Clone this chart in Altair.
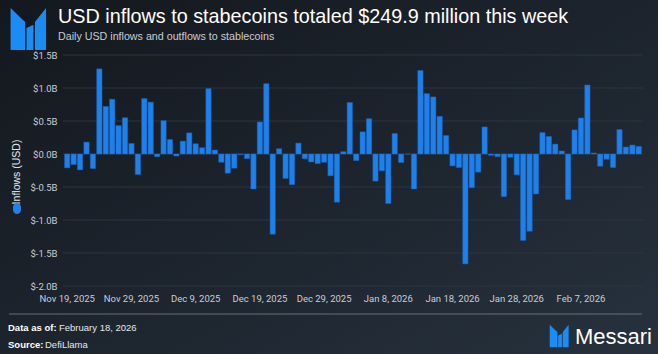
import altair as alt
import pandas as pd

# ---- data (billions of USD, daily, starting Nov 19, 2025) ----
start_date = "2025-11-19"
inflows_b = [
    -0.21, -0.16, -0.24, 0.18, -0.22, 1.29, 0.72, 0.83, 0.43, 0.55,
    0.16, -0.31, 0.84, 0.785, -0.04, 0.505, 0.22, -0.03, 0.195, 0.32,
    0.155, 0.095, 0.99, 0.06, -0.125, -0.29, -0.215, -0.01, -0.07, -0.53,
    0.485, 1.065, -1.215, 0.08, -0.37, -0.465, 0.165, -0.07, -0.12, -0.145,
    -0.125, -0.33, -0.73, 0.035, 0.78, -0.10, 0.335, 0.535, -0.41, -0.255,
    -0.75, 0.31, -0.13, 0.0, -0.53, 1.265, 0.915, 0.865, 0.57, 0.28,
    -0.18, -0.205, -1.665, -0.51, -0.275, 0.41, -0.02, -0.04, -0.645, -0.05,
    -0.315, -1.31, -1.17, -0.605, 0.325, 0.265, 0.15, 0.045, -0.69, 0.365,
    0.545, 1.045, 0.015, -0.185, -0.08, -0.205, 0.37, 0.105, 0.135, 0.115,
]
x_tick_labels = ["Nov 19, 2025", "Nov 29, 2025", "Dec 9, 2025", "Dec 19, 2025",
                 "Dec 29, 2025", "Jan 8, 2026", "Jan 18, 2026", "Jan 28, 2026",
                 "Feb 7, 2026"]
y_ticks = [-2.0, -1.5, -1.0, -0.5, 0.0, 0.5, 1.0, 1.5]

title_text = "USD inflows to stabecoins totaled $249.9 million this week"
subtitle_text = "Daily USD inflows and outflows to stablecoins"
axis_title = "Inflows (USD)"

dates = pd.date_range(start_date, periods=len(inflows_b), freq="D")
day_labels = [f"{d:%b} {d.day}, {d.year}" for d in dates]
df = pd.DataFrame({"day": day_labels, "inflow": inflows_b})
grid_df = pd.DataFrame({"inflow": y_ticks})

W, H = 580, 231
FONT = "Roboto"
TFONT = "Liberation Sans"
one = pd.DataFrame({"k": [0]})

logo_path = ("M -0.83 -1 L -0.14 -0.33 L -0.14 1 L -0.83 1 Z "
             "M -0.07 -0.05 L 0.26 -0.2 L 0.26 1 L -0.07 1 Z "
             "M 0.33 -0.33 L 0.86 -1 L 0.86 1 L 0.33 1 Z")

yscale = alt.Scale(domain=[-2, 1.5], nice=False, zero=False)
yaxis = alt.Axis(values=y_ticks, ticks=False, domain=False, title=None,
                 grid=False, zindex=1,
                 labelColor="#c9ced6", labelFontSize=9.5, labelFont=FONT,
                 labelPadding=6,
                 labelExpr="(datum.value < 0 ? '$-' : '$') + format(abs(datum.value), '.1f') + 'B'")

bg = alt.Chart(one).mark_rect(
    clip=False,
    fill=alt.Gradient(gradient="linear", x1=0, y1=0, x2=1, y2=1,
                      stops=[alt.GradientStop(color="#14181e", offset=0),
                             alt.GradientStop(color="#1e2630", offset=0.6),
                             alt.GradientStop(color="#27323e", offset=1)]),
).encode(x=alt.value(-63), x2=alt.value(W + 15), y=alt.value(-55), y2=alt.value(H + 68))

grid = alt.Chart(grid_df).mark_rule(color="#2d3540", strokeWidth=1).encode(
    y=alt.Y("inflow:Q", scale=yscale, axis=yaxis),
    x=alt.value(0), x2=alt.value(W),
)

bars = alt.Chart(df).mark_bar(color="#1f80ea", stroke="#1766c2", strokeWidth=0.5).encode(
    x=alt.X("day:N", sort=day_labels,
            scale=alt.Scale(paddingInner=0.18, paddingOuter=0.25),
            axis=alt.Axis(values=x_tick_labels, labelAngle=0, ticks=False, domain=False,
                          title=None, grid=False, labelColor="#c9ced6", labelFontSize=9.5,
                          labelFont=FONT, labelPadding=7, labelOverlap=False, zindex=1)),
    y=alt.Y("inflow:Q", scale=yscale, axis=yaxis),
)

def txt(text, x, y, size, color="#ffffff", weight="normal", align="left", angle=0, font=FONT):
    return alt.Chart(one).mark_text(
        text=text, fontSize=size, color=color, fontWeight=weight, align=align,
        baseline="alphabetic", angle=angle, font=font, clip=False,
    ).encode(x=alt.value(x), y=alt.value(y))

title = txt(title_text, -5, -32, 19.8, font=TFONT)
subtitle = txt(subtitle_text, -5, -15, 10.7, color="#c8ccd3", font=TFONT)
ytitle = alt.Chart(one).mark_text(
    text=axis_title, fontSize=10.5, color="#e4e7ec", angle=270, align="center",
    baseline="middle", font=TFONT, clip=False,
).encode(x=alt.value(-46), y=alt.value(117))
pill = alt.Chart(one).mark_rect(color="#1f80ea", cornerRadius=4, clip=False).encode(
    x=alt.value(-50), x2=alt.value(-42), y=alt.value(148), y2=alt.value(159))

logo_top = alt.Chart(one).mark_point(
    shape=logo_path, filled=True, color="#1c8cf5", opacity=1, size=1764, clip=False,
).encode(x=alt.value(-35), y=alt.value(-26))
logo_bot = alt.Chart(one).mark_point(
    shape=logo_path, filled=True, color="#1c8cf5", opacity=1, size=500, clip=False,
).encode(x=alt.value(496), y=alt.value(281))
messari = txt("Messari", 512, 289, 22, font=TFONT)

sep = alt.Chart(one).mark_rule(color="#666e7a", strokeWidth=1, clip=False).encode(
    x=alt.value(-54), x2=alt.value(579), y=alt.value(259))
data_as_of_b = txt("Data as of:", -55, 276, 9.5, weight="bold", font=TFONT)
data_as_of = txt("February 18, 2026", -4, 276, 9.5, color="#e6e8ec", font=TFONT)
source_b = txt("Source:", -55, 293, 9.5, weight="bold", font=TFONT)
source = txt("DefiLlama", -18, 293, 9.5, color="#e6e8ec", font=TFONT)

chart = alt.layer(
    bg, grid, bars, title, subtitle, ytitle, pill, logo_top, logo_bot, messari,
    sep, data_as_of_b, data_as_of, source_b, source,
).properties(
    width=W, height=H,
    padding={"left": 63, "top": 55, "right": 15, "bottom": 68},
    autosize=alt.AutoSizeParams(type="none"),
    background="#1c222c",
).configure_view(stroke=None)

chart.save("out.html", embed_options={"renderer": "svg", "actions": False})
